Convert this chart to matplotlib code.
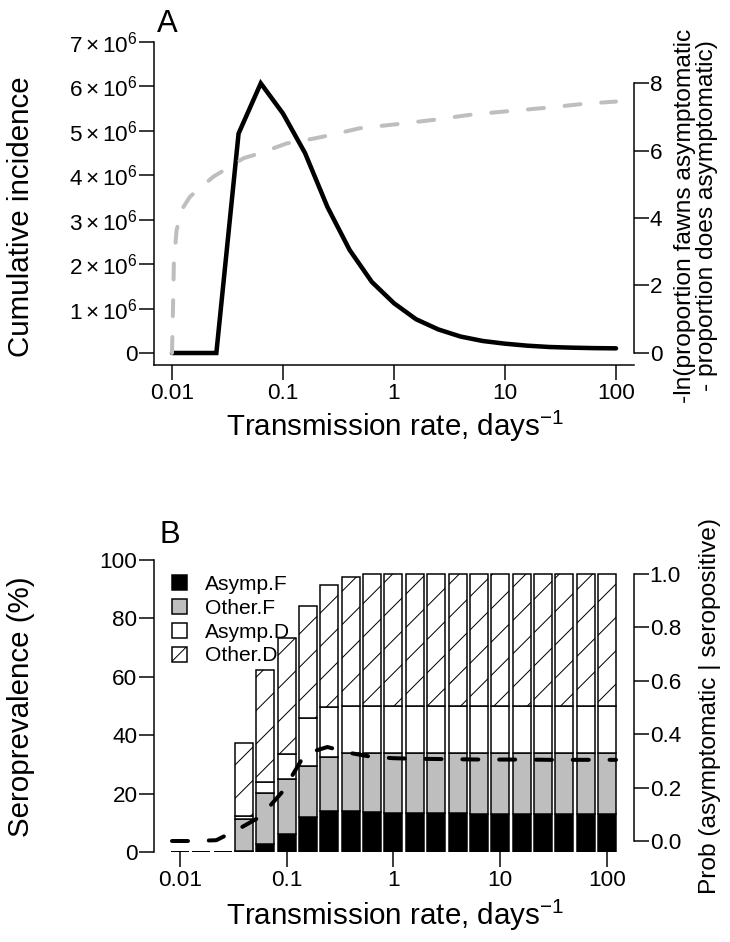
import matplotlib
matplotlib.use("Agg")
import matplotlib.pyplot as plt
from matplotlib.patches import Patch
import numpy as np

# Target size in pixels; at dpi 100 the '/' hatch spacing matches the original
FIG_W, FIG_H, DPI = 730, 942, 100

plt.rcParams['font.family'] = ['Liberation Sans', 'DejaVu Sans']
plt.rcParams['mathtext.fontset'] = 'custom'
plt.rcParams['mathtext.rm'] = 'Liberation Sans'
plt.rcParams['mathtext.it'] = 'Liberation Sans:italic'
plt.rcParams['mathtext.bf'] = 'Liberation Sans:bold'
plt.rcParams['hatch.color'] = 'black'

# Transmission rates (0.2 decade steps), shared by both panels
rates = [0.01, 0.0158, 0.0251, 0.0398, 0.0631, 0.1, 0.158, 0.251, 0.398, 0.631,
         1, 1.58, 2.51, 3.98, 6.31, 10, 15.8, 25.1, 39.8, 63.1, 100]
rate_ticks = [0.01, 0.1, 1, 10, 100]
rate_tick_labels = ['0.01', '0.1', '1', '10', '100']

# Panel A: cumulative incidence and the -ln(...) curve
cum_incidence = [0, 0, 0, 4.94e6, 6.07e6, 5.39e6, 4.50e6, 3.29e6, 2.32e6, 1.60e6,
                 1.12e6, 0.76e6, 0.53e6, 0.37e6, 0.27e6, 0.21e6, 0.165e6, 0.135e6,
                 0.12e6, 0.11e6, 0.105e6]
ratio_rates = [0.01, 0.01015, 0.0104, 0.011, 0.0122, 0.0145, 0.0235, 0.044, 0.062,
               0.108, 0.194, 0.305, 0.49, 1.13, 2.44, 5.15, 11.1, 24.4, 53.7, 100]
neg_log_ratio = [0, 0.89, 2.67, 3.64, 4.24, 4.63, 5.22, 5.77, 5.92,
                 6.21, 6.36, 6.50, 6.66, 6.79, 6.92, 7.07, 7.17, 7.27, 7.39, 7.45]
inc_ticks = [0, 1e6, 2e6, 3e6, 4e6, 5e6, 6e6, 7e6]
inc_tick_labels = ['0'] + [r'$%d\times10^{6}$' % k for k in range(1, 8)]

# Panel B: seroprevalence (%) by group, stacked
asymp_f = [0, 0, 0, 0.5, 2.6, 6.2, 12.1, 14.2, 14.0, 13.6, 13.5, 13.4, 13.3, 13.3,
           13.1, 13.1, 13.0, 13.0, 13.0, 12.9, 12.9]
other_f = [0, 0, 0, 10.8, 17.5, 18.8, 17.4, 18.2, 19.8, 20.2, 20.3, 20.4, 20.5, 20.5,
           20.7, 20.7, 20.8, 20.8, 20.8, 20.9, 20.9]
asymp_d = [0, 0, 0, 1.1, 3.8, 8.6, 16.3, 17.4, 16.2, 16.2, 16.2, 16.2, 16.2, 16.2,
           16.2, 16.2, 16.2, 16.2, 16.2, 16.2, 16.2]
other_d = [0, 0, 0, 25.0, 38.4, 39.8, 38.4, 41.6, 44.1, 45.2, 45.2, 45.2, 45.2, 45.2,
           45.2, 45.2, 45.2, 45.2, 45.2, 45.2, 45.2]
prob_asymp = [0.0, 0.0, 0.003, 0.045, 0.092, 0.187, 0.326, 0.352, 0.33, 0.315, 0.31,
              0.308, 0.307, 0.306, 0.305, 0.305, 0.305, 0.304, 0.304, 0.304, 0.304]
group_labels = ['Asymp.F', 'Other.F', 'Asymp.D', 'Other.D']

GRAY = '#BEBEBE'
PT = 72.0 / DPI  # points per pixel
TICK_FS = 22.5 * PT
LABEL_FS = 29.5 * PT
RLABEL_FS = 24.5 * PT
LEG_FS = 21 * PT
LW_AX = 1.5 * PT
LW_LINE = 4.5 * PT
LW_DASH = 4 * PT
plt.rcParams['hatch.linewidth'] = 1.0 * PT


def rect_px(left, top, right, bottom):
    return [left / FIG_W, 1 - bottom / FIG_H, (right - left) / FIG_W, (bottom - top) / FIG_H]


def style_ticks(ax, axis, pad):
    ax.tick_params(axis=axis, which='major', length=15 * PT, width=LW_AX,
                   labelsize=TICK_FS, pad=pad, direction='out')
    ax.tick_params(axis=axis, which='minor', length=0)


def fig_text(fig, x, y, s, **kw):
    fig.text(x / FIG_W, 1 - y / FIG_H, s, **kw)


fig = plt.figure(figsize=(FIG_W / DPI, FIG_H / DPI), dpi=DPI)

# ---------------- Panel A ----------------
axA = fig.add_axes(rect_px(154, 30, 634, 365))
axA.set_xscale('log')
axA.set_xlim(10 ** -2.162, 10 ** 2.162)
axA.set_ylim(-0.2701e6, 7.2701e6)
axA.plot(rates, cum_incidence, color='black', lw=LW_LINE, solid_joinstyle='miter',
         solid_capstyle='round')
axA.set_yticks(inc_ticks)
axA.set_yticklabels(inc_tick_labels)
axA.set_xticks(rate_ticks)
axA.set_xticklabels(rate_tick_labels)
axA.xaxis.set_minor_locator(matplotlib.ticker.NullLocator())
style_ticks(axA, 'y', 1.0)
style_ticks(axA, 'x', 2.5)
for s in ['top', 'right']:
    axA.spines[s].set_visible(False)
for s in ['left', 'bottom']:
    axA.spines[s].set_linewidth(LW_AX)
axA.spines['left'].set_bounds(-0.2701e6, 7e6)

axA2 = axA.twinx()
axA2.set_ylim(-0.3556, 9.5704)
axA2.plot(ratio_rates, neg_log_ratio, color=GRAY, lw=LW_DASH, dashes=(4, 5.2),
          dash_capstyle='round')
axA2.set_yticks([0, 2, 4, 6, 8])
style_ticks(axA2, 'y', 0.5)
for s in ['top', 'left', 'bottom']:
    axA2.spines[s].set_visible(False)
axA2.spines['right'].set_linewidth(LW_AX)
axA2.spines['right'].set_bounds(0, 8)

# ---------------- Panel B ----------------
axB = fig.add_axes(rect_px(154, 560, 634, 852))
idx = np.arange(len(rates))
bar_w = 0.843
bottom = np.zeros(len(rates))
bar_styles = [dict(color='black'), dict(color=GRAY), dict(color='white'),
              dict(color='white', hatch='/')]
for vals, st in zip([asymp_f, other_f, asymp_d, other_d], bar_styles):
    axB.bar(idx, vals, bar_w, bottom=bottom, edgecolor='black', linewidth=LW_AX,
            **st)
    bottom = bottom + np.array(vals)
axB.set_xlim(-1.218, 21.265)
axB.set_ylim(0, 100)
tick_idx = [rates.index(r) for r in rate_ticks]
axB.set_xticks(tick_idx)
axB.set_xticklabels(rate_tick_labels)
axB.set_yticks([0, 20, 40, 60, 80, 100])
style_ticks(axB, 'y', 1.0)
style_ticks(axB, 'x', 2.5)
for s in ['top', 'right', 'bottom']:
    axB.spines[s].set_visible(False)
axB.spines['left'].set_linewidth(LW_AX)

leg_handles = [Patch(facecolor='black', edgecolor='black', lw=LW_AX),
               Patch(facecolor=GRAY, edgecolor='black', lw=LW_AX),
               Patch(facecolor='white', edgecolor='black', lw=LW_AX),
               Patch(facecolor='white', edgecolor='black', lw=LW_AX, hatch='//')]
axB.legend(leg_handles, group_labels, loc='upper left', frameon=False,
           fontsize=LEG_FS, handlelength=0.71, handleheight=0.71,
           handletextpad=0.86, labelspacing=0.23, borderaxespad=0, borderpad=0,
           bbox_to_anchor=((172 - 154) / 480, 1 - (575 - 560) / 292))

axB2 = fig.add_axes(rect_px(154, 560, 634, 852))
axB2.patch.set_visible(False)
axB2.set_xscale('log')
axB2.set_xlim(10 ** -2.162, 10 ** 2.162)
axB2.set_ylim(-0.0412, 1.0524)
axB2.plot(rates, prob_asymp, color='black', lw=LW_DASH, dashes=(4, 5.2),
          dash_capstyle='round')
axB2.xaxis.set_visible(False)
axB2.yaxis.tick_right()
axB2.set_yticks([0, 0.2, 0.4, 0.6, 0.8, 1.0])
axB2.set_yticklabels(['0.0', '0.2', '0.4', '0.6', '0.8', '1.0'])
style_ticks(axB2, 'y', 0.5)
for s in ['top', 'left', 'bottom']:
    axB2.spines[s].set_visible(False)
axB2.spines['right'].set_linewidth(LW_AX)
axB2.spines['right'].set_bounds(0, 1)

# ---------------- Labels ----------------
xlab = r'Transmission rate, days$^{-1}$'
fig_text(fig, 395, 426, xlab, fontsize=LABEL_FS, ha='center', va='center')
fig_text(fig, 395, 915, xlab, fontsize=LABEL_FS, ha='center', va='center')
fig_text(fig, 21, 217, 'Cumulative incidence', fontsize=LABEL_FS, rotation=90,
         ha='center', va='center')
fig_text(fig, 21, 707, 'Seroprevalence (%)', fontsize=LABEL_FS, rotation=90,
         ha='center', va='center')
fig_text(fig, 696, 216, '-ln(proportion fawns asymptomatic\n- proportion does asymptomatic)',
         fontsize=RLABEL_FS, rotation=90, ha='center', va='center',
         multialignment='center', linespacing=1.05)
fig_text(fig, 710, 706, 'Prob (asymptomatic | seropositive)', fontsize=RLABEL_FS,
         rotation=90, ha='center', va='center')
fig_text(fig, 157, 32, 'A', fontsize=31 * PT, ha='left', va='baseline')
fig_text(fig, 160, 543, 'B', fontsize=31 * PT, ha='left', va='baseline')

fig.savefig('out.png', dpi=DPI)
